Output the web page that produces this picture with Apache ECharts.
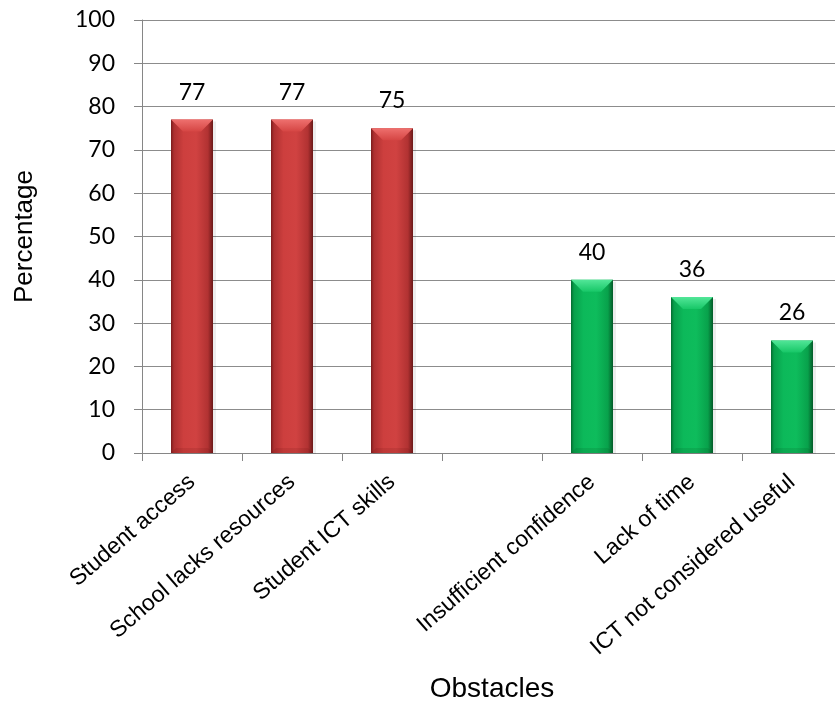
<!DOCTYPE html>
<html>
<head>
<meta charset="utf-8">
<script src="https://cdn.jsdelivr.net/npm/echarts@6/dist/echarts.min.js"></script>
<style>
  html, body { margin: 0; padding: 0; background: #ffffff; }
  #chart { width: 835px; height: 704px; }
</style>
</head>
<body>
<div id="chart"></div>
<script>
// Obstacles to ICT use, percentage of respondents
const categories = [
  'Student access',
  'School lacks resources',
  'Student ICT skills',
  '',
  'Insufficient confidence',
  'Lack of time',
  'ICT not considered useful'
];
const percentages = [77, 77, 75, null, 40, 36, 26];
const yMin = 0;
const yMax = 100;
const yStep = 10;

// The first three obstacles are drawn red, the rest green
const redCount = 3;

const RED = {
  body: [[0, '#7a1c1c'], [0.07, '#ad3030'], [0.3, '#cd3f3e'], [0.6, '#d04241'], [0.88, '#b13232'], [1, '#6a1818']],
  cap: [[0, '#ee706e'], [1, '#d54543']],
  foot: 'rgba(90,10,10,0.12)'
};
const GREEN = {
  body: [[0, '#046a30'], [0.07, '#089f4b'], [0.3, '#0cb95a'], [0.6, '#0ebc5c'], [0.88, '#08a14b'], [1, '#045a29']],
  cap: [[0, '#52e698'], [1, '#17c767']],
  foot: 'rgba(0,60,20,0.12)'
};

const gradient = (x2, y2, stops) =>
  new echarts.graphic.LinearGradient(0, 0, x2, y2, stops.map(s => ({ offset: s[0], color: s[1] })));

function renderBar(params, api) {
  const idx = api.value(0);
  const val = api.value(1);
  if (val == null || isNaN(val)) return;
  const top = api.coord([idx, val]);
  const base = api.coord([idx, 0]);
  const bw = Math.round(api.size([1, 0])[0] * 0.42);
  const x = Math.round(top[0] - bw / 2);
  const y = top[1];
  const h = base[1] - top[1];
  const pal = idx < redCount ? RED : GREEN;
  const bev = Math.min(12, h / 2);
  const foot = Math.min(5, h / 4);
  return {
    type: 'group',
    children: [
      { type: 'rect', shape: { x: x + 2, y: y + 2, width: bw + 1, height: h - 1 },
        style: { fill: 'rgba(0,0,0,0.07)' } },
      { type: 'rect', shape: { x: x, y: y, width: bw, height: h },
        style: { fill: gradient(1, 0, pal.body) } },
      { type: 'polygon', shape: { points: [[x, y], [x + bw, y], [x + bw - bev, y + bev], [x + bev, y + bev]] },
        style: { fill: gradient(0, 1, pal.cap) } },
      { type: 'polygon', shape: { points: [[x, base[1]], [x + bw, base[1]], [x + bw - foot, base[1] - foot], [x + foot, base[1] - foot]] },
        style: { fill: pal.foot } },
      { type: 'text', x: top[0], y: y - 16,
        style: { text: String(val), textAlign: 'center', textVerticalAlign: 'bottom',
                 font: '23px Lato, "Open Sans", sans-serif', fill: '#000000' } }
    ]
  };
}

const chart = echarts.init(document.getElementById('chart'), null, { renderer: 'canvas' });
chart.setOption({
  animation: false,
  backgroundColor: '#ffffff',
  grid: { left: 142, top: 20, width: 700, height: 433, containLabel: false, outerBoundsMode: 'none' },
  xAxis: {
    type: 'category',
    data: categories,
    name: 'Obstacles',
    nameLocation: 'middle',
    nameGap: 222,
    nameTextStyle: { fontFamily: '"Liberation Sans", Arial, sans-serif', fontSize: 28, color: '#000000' },
    axisLine: { show: true, lineStyle: { color: '#868686', width: 1 } },
    axisTick: { show: true, alignWithLabel: false, interval: 0, length: 8, lineStyle: { color: '#868686' } },
    axisLabel: {
      interval: 0, rotate: 41, margin: 26,
      fontFamily: '"Liberation Sans", Arial, sans-serif', fontSize: 23, color: '#000000'
    },
    splitLine: { show: false }
  },
  yAxis: {
    type: 'value',
    min: yMin, max: yMax, interval: yStep,
    name: 'Percentage',
    nameLocation: 'middle',
    nameGap: 104,
    nameRotate: 90,
    nameTextStyle: { fontFamily: '"Liberation Sans", Arial, sans-serif', fontSize: 26, color: '#000000' },
    axisLine: { show: true, lineStyle: { color: '#868686', width: 1 } },
    axisTick: { show: true, length: 8, lineStyle: { color: '#868686' } },
    axisLabel: { margin: 27, fontFamily: 'Lato, "Open Sans", sans-serif', fontSize: 23, color: '#000000' },
    splitLine: { show: true, lineStyle: { color: '#8c8c8c', width: 1 } }
  },
  series: [{
    type: 'custom',
    renderItem: renderBar,
    encode: { x: 0, y: 1 },
    data: percentages.map((v, i) => [i, v == null ? '-' : v]),
    z: 3
  }]
});
</script>
</body>
</html>
